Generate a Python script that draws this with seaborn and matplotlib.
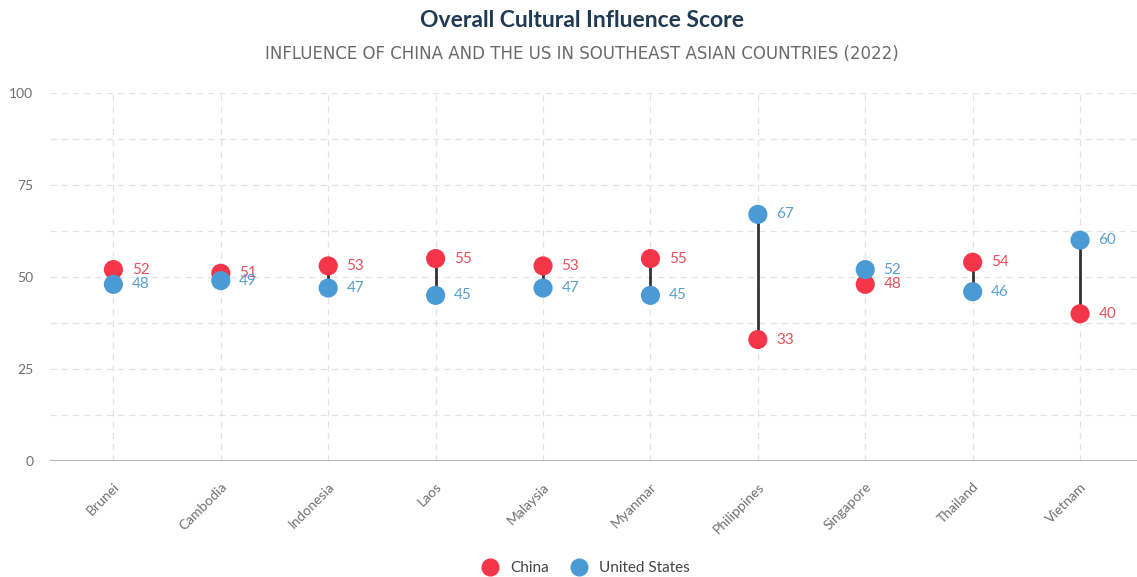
import matplotlib.pyplot as plt
import pandas as pd
import numpy as np
import seaborn as sns

countries = ["Brunei", "Cambodia", "Indonesia", "Laos", "Malaysia",
             "Myanmar", "Philippines", "Singapore", "Thailand", "Vietnam"]
china = [52, 51, 53, 55, 53, 55, 33, 48, 54, 40]
usa = [48, 49, 47, 45, 47, 45, 67, 52, 46, 60]

red = "#F5364A"
blue = "#4A9AD6"
red_txt = "#E4505C"
blue_txt = "#5A9FCC"

df = pd.DataFrame({
    "country": countries * 2,
    "score": china + usa,
    "series": ["China"] * len(countries) + ["United States"] * len(countries),
})

sns.set_style("white")
plt.rcParams["font.family"] = ["Lato", "DejaVu Sans"]

fig = plt.figure(figsize=(11.37, 5.77), dpi=100)
ax = fig.add_axes([0.044, 0.201, 0.956, 0.638])

xs = np.arange(len(countries))

# grid
for y in np.arange(12.5, 101, 12.5):
    ax.axhline(y, color="#e3e3e3", lw=0.9, ls=(0, (5, 4)), zorder=0)
for x in xs:
    ax.axvline(x, color="#e3e3e3", lw=0.9, ls=(0, (5, 4)), zorder=0)
ax.axhline(0, color="#a8a8a8", lw=1.2, zorder=1)

# connector lines
ax.vlines(xs, np.minimum(china, usa), np.maximum(china, usa),
          color="#333333", lw=2, zorder=2)

sns.scatterplot(data=df, x="country", y="score", hue="series",
                palette={"China": red, "United States": blue},
                s=190, edgecolor="none", ax=ax, zorder=3, legend=False)

for i in range(len(countries)):
    ax.text(xs[i] + 0.17, china[i], str(china[i]), color=red_txt,
            fontsize=11, va="center", ha="left", zorder=4)
    ax.text(xs[i] + 0.17, usa[i], str(usa[i]), color=blue_txt,
            fontsize=11, va="center", ha="left", zorder=4)

ax.set_xlim(-0.59, 9.53)
ax.set_ylim(0, 100)
ax.set_yticks([0, 25, 50, 75, 100])
ax.set_xticks(xs)
ax.set_xticklabels(countries, rotation=45, ha="right", rotation_mode="anchor")
ax.tick_params(axis="both", length=0, colors="#707070", labelsize=10)
ax.tick_params(axis="x", pad=14)
ax.tick_params(axis="y", pad=12)
ax.set_xlabel("")
ax.set_ylabel("")
for s in ax.spines.values():
    s.set_visible(False)

fig.text(0.512, 0.965, "Overall Cultural Influence Score", ha="center",
         va="center", fontsize=16.5, fontweight="bold", color="#1F3A52")
fig.text(0.512, 0.906, "INFLUENCE OF CHINA AND THE US IN SOUTHEAST ASIAN COUNTRIES (2022)",
         ha="center", va="center", fontsize=12, color="#6a6a6a",
         family=["DejaVu Sans"])

handles = [plt.Line2D([], [], marker="o", ls="", color=red, markersize=12),
           plt.Line2D([], [], marker="o", ls="", color=blue, markersize=12)]
fig.legend(handles, ["China", "United States"], loc="center",
           bbox_to_anchor=(0.512, 0.015), ncol=2, frameon=False,
           fontsize=11, handletextpad=0.3, columnspacing=1.0,
           labelcolor="#444444")

fig.savefig("out.png", dpi=100)
